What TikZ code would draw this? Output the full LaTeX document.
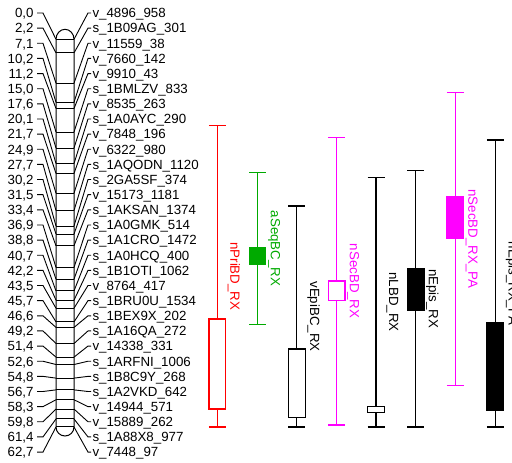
\documentclass[tikz,border=0pt]{standalone}
\usepackage{fontspec}
\setmainfont{Liberation Sans}
\usepackage{tikz}
\definecolor{qred}{RGB}{255,0,0}
\definecolor{qgreen}{RGB}{0,170,0}
\definecolor{qmag}{RGB}{255,0,255}
\definecolor{qblack}{RGB}{0,0,0}

\begin{document}
\begin{tikzpicture}[x=1pt,y=-1pt,line width=1pt,
	every node/.style={font=\fontsize{13.3}{15}\selectfont,inner sep=0pt},
	mtick/.style={line width=0.9pt},
	poslab/.style={anchor=base east,yshift=-4.8pt},
	mklab/.style={anchor=base west,yshift=-4.8pt},
	qtl/.style={line width=1.2pt},
	qtllab/.style={rotate=-90,anchor=south}]
	\useasboundingbox (0,0) rectangle (512,463);

	% chromosome
	\draw[fill=white] (56,39.3) -- (56,427) arc[start angle=180,end angle=0,x radius=9,y radius=9]
		-- (74,39.3) arc[start angle=0,end angle=-180,x radius=9,y radius=10] -- cycle;

	\foreach \lab/\cm/\mname [count=\i] in {0{,}0/0.0/v\_4896\_958, 2{,}2/2.2/s\_1B09AG\_301,
		7{,}1/7.1/v\_11559\_38, 10{,}2/10.2/v\_7660\_142, 11{,}2/11.2/v\_9910\_43,
		15{,}0/15.0/s\_1BMLZV\_833, 17{,}6/17.6/v\_8535\_263, 20{,}1/20.1/s\_1A0AYC\_290,
		21{,}7/21.7/v\_7848\_196, 24{,}9/24.9/v\_6322\_980, 27{,}7/27.7/s\_1AQODN\_1120,
		30{,}2/30.2/s\_2GA5SF\_374, 31{,}5/31.5/v\_15173\_1181, 33{,}4/33.4/s\_1AKSAN\_1374,
		36{,}9/36.9/s\_1A0GMK\_514, 38{,}8/38.8/s\_1A1CRO\_1472, 40{,}7/40.7/s\_1A0HCQ\_400,
		42{,}2/42.2/s\_1B1OTI\_1062, 43{,}5/43.5/v\_8764\_417, 45{,}7/45.7/s\_1BRU0U\_1534,
		46{,}6/46.6/s\_1BEX9X\_202, 49{,}2/49.2/s\_1A16QA\_272, 51{,}4/51.4/v\_14338\_331,
		52{,}6/52.6/s\_1ARFNI\_1006, 54{,}8/54.8/s\_1B8C9Y\_268, 56{,}7/56.7/s\_1A2VKD\_642,
		58{,}3/58.3/v\_14944\_571, 59{,}8/59.8/v\_15889\_262, 61{,}4/61.4/s\_1A88X8\_977,
		62{,}7/62.7/v\_7448\_97}{
		\pgfmathsetmacro\my{39.3+6.183*\cm}
		\pgfmathsetmacro\ly{13+15.14*(\i-1)}
		\coordinate (cl\i) at (56,\my);
		\coordinate (cr\i) at (74,\my);
		\draw (cl\i) -- (cr\i);
		\node[poslab] (p\i) at (34,\ly) {\lab};
		\node[mklab] (m\i) at (92,\ly) {\mname};
		\coordinate (pl\i) at (37,\ly);
		\coordinate (ml\i) at (91,\ly);
		\draw[mtick] (pl\i) -- ++(6,0) -- (cl\i);
		\draw[mtick] (cr\i) -- (88,\ly) -- (ml\i);
	}

	% QTL intervals
	\foreach \qx/\wt/\wb/\bt/\bb/\qc/\qf/\qname [count=\j] in {
		217.3/125.7/427/319/409/qred/white/nPriBD\_RX,
		257.5/172.7/324.3/247.7/264/qgreen/qgreen/aSeqBC\_RX,
		296.8/206/427/349/417.3/qblack/white/vEpiBC\_RX,
		336.7/137.3/425/281/300.3/qmag/white/nSecBD\_RX,
		376/177.3/427/406.7/412.3/qblack/white/nLBD\_RX,
		415.7/170.7/427/269/310.7/qblack/qblack/nEpis\_RX,
		455.3/92.3/385.3/196.7/238.3/qmag/qmag/nSecBD\_RX\_PA,
		495.3/140/427/322.3/410/qblack/qblack/nEpis\_RX\_PA}{
		\draw[qtl,draw=\qc] (\qx-8.5,\wt) -- (\qx+8.5,\wt) (\qx,\wt) -- (\qx,\wb) (\qx-8.5,\wb) -- (\qx+8.5,\wb);
		\draw[qtl,draw=\qc,fill=\qf] (\qx-8.3,\bt) rectangle (\qx+8.3,\bb);
		\node[qtllab,text=\qc] (q\j) at (\qx+10,{(\wt+\wb)/2}) {\qname};
	}
\end{tikzpicture}
\end{document}
